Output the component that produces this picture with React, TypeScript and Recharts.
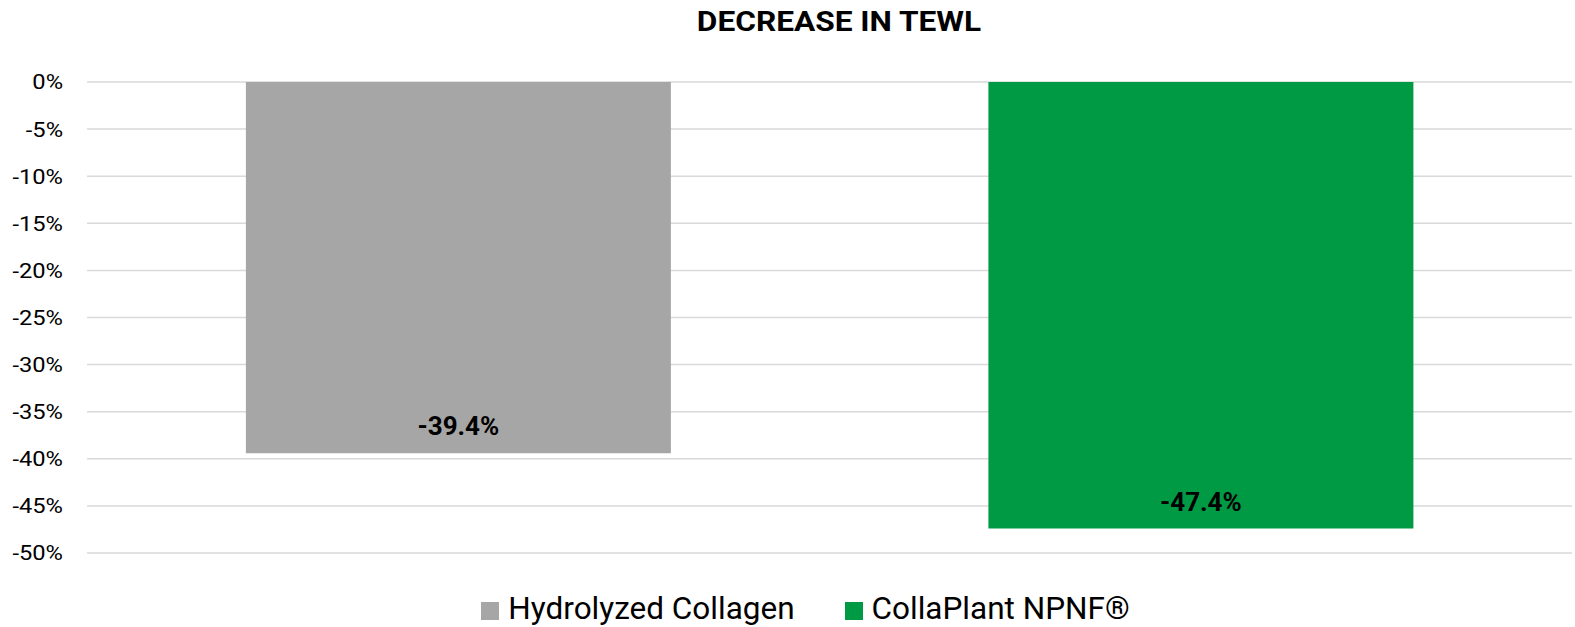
import { BarChart, Bar, XAxis, YAxis, CartesianGrid, Cell, LabelList, Legend } from "recharts";

const categories = ["Hydrolyzed Collagen", "CollaPlant NPNF®"];
const tewlDecrease = [-39.4, -47.4];
const barColors = ["#A6A6A6", "#009A44"];
const yTicks = [0, -5, -10, -15, -20, -25, -30, -35, -40, -45, -50];

const data = categories.map((name, i) => ({ name, value: tewlDecrease[i] }));

const FONT = "Roboto, 'Liberation Sans', Arial, sans-serif";

// reference text is a little stretched sideways
const YTick = ({ x, y, payload }: any) => (
  <text
    x={x}
    y={y}
    dy="0.355em"
    textAnchor="end"
    fontSize={21}
    fontFamily={FONT}
    fill="#000"
    transform={`translate(${x} 0) scale(1.13 1) translate(${-x} 0)`}
  >
    {`${payload.value}%`}
  </text>
);

const renderLegend = () => (
  <div style={{ display: "flex", justifyContent: "center", alignItems: "center", fontFamily: FONT }}>
    {categories.map((name, i) => (
      <div key={name} style={{ display: "flex", alignItems: "center", marginLeft: i === 0 ? 0 : 50 }}>
        <span style={{ width: 18, height: 18, background: barColors[i], display: "inline-block", marginRight: 9, marginTop: 4 }} />
        <span style={{ fontSize: 31.5, color: "#000", lineHeight: "36px" }}>{name}</span>
      </div>
    ))}
  </div>
);

const App = () => (
  <div style={{ position: "absolute", left: 0, top: 0, width: 1575, height: 627, background: "#fff" }}>
    <div
      style={{
        position: "absolute",
        left: 839,
        top: 6,
        transform: "translateX(-50%) scaleX(1.13)",
        fontFamily: FONT,
        fontWeight: 700,
        fontSize: 28,
        lineHeight: "32px",
        whiteSpace: "nowrap",
        color: "#000",
      }}
    >
      DECREASE IN TEWL
    </div>
    <BarChart
      width={1575}
      height={627}
      data={data}
      margin={{ top: 82, right: 3, left: 0, bottom: 74 }}
      barCategoryGap="21.4%"
    >
      <CartesianGrid horizontal vertical={false} stroke="#D9D9D9" strokeWidth={1.5} />
      <XAxis dataKey="name" hide />
      <YAxis
        width={87}
        domain={[-50, 0]}
        ticks={yTicks}
        interval={0}
        axisLine={false}
        tickLine={false}
        tickMargin={18}
        tick={<YTick />}
      />
      <Legend
        layout="horizontal"
        verticalAlign="middle"
        align="center"
        content={renderLegend}
        wrapperStyle={{ top: 591, left: 18, width: 1575 }}
      />
      <Bar dataKey="value" isAnimationActive={false}>
        {data.map((d, i) => (
          <Cell key={d.name} fill={barColors[i]} />
        ))}
        <LabelList
          dataKey="value"
          position="insideTop"
          offset={18}
          formatter={(v: number) => `${v.toFixed(1)}%`}
          style={{ fontSize: 26, fontWeight: 700, fill: "#000", fontFamily: FONT }}
        />
      </Bar>
    </BarChart>
  </div>
);

export default App;
